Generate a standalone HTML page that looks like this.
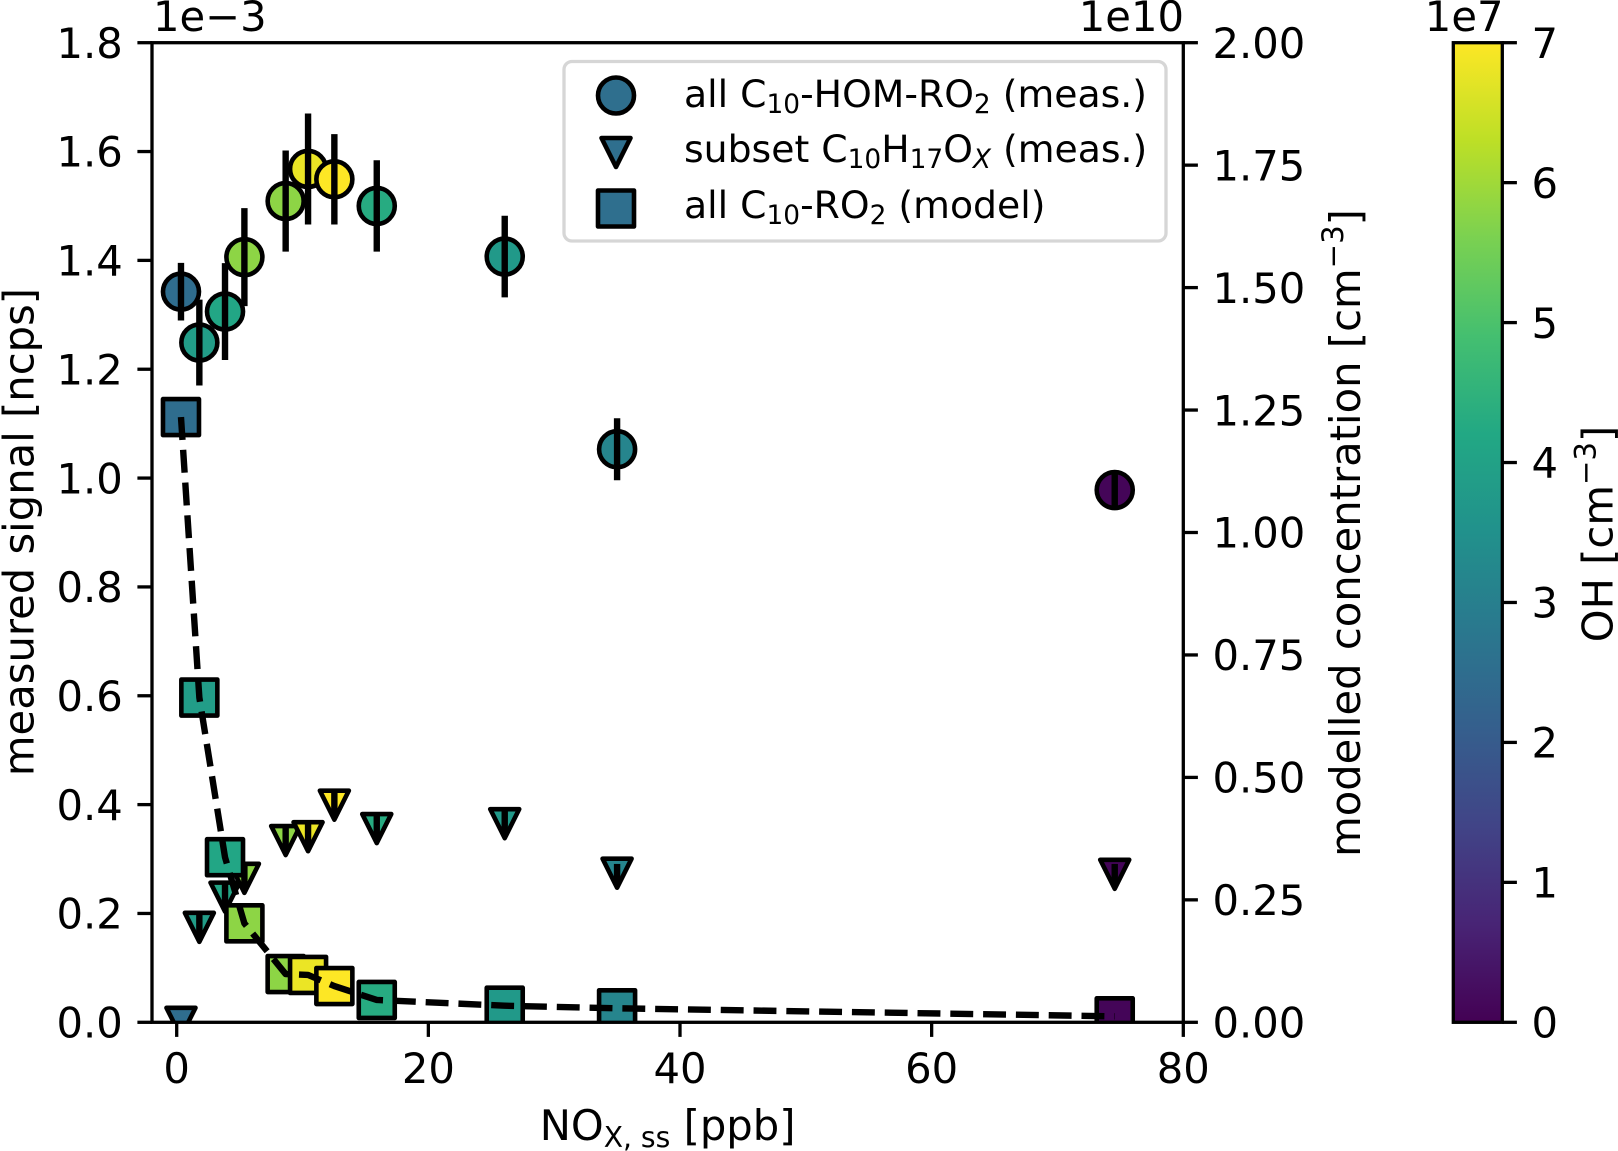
<!DOCTYPE html>
<html lang="en">
<head>
<meta charset="utf-8">
<title>Measured signal and modelled concentration vs NOx</title>
<style>
html,body{margin:0;padding:0;background:#fff;}
svg{display:block;}
text{font-family:"DejaVu Sans","Liberation Sans",sans-serif;font-size:41.7px;fill:#000;}
#legend text{font-size:37.75px;}
#legend text tspan.s{font-size:26.4px;}
</style>
</head>
<body>
<svg id="chart" xmlns="http://www.w3.org/2000/svg" width="1618" height="1151" viewBox="0 0 1618 1151">
  <defs>
    <clipPath id="axes-clip"><rect x="152" y="42.7" width="1031.3" height="979.6"/></clipPath>
    <linearGradient id="viridis-gradient" x1="0" y1="1" x2="0" y2="0"></linearGradient>
  </defs>
  <rect width="1618" height="1151" fill="#fff"/>
  <g id="plot" clip-path="url(#axes-clip)"></g>
  <g id="axes"></g>

  <text x="153" y="31">1e−3</text>
  <text x="1184" y="31" text-anchor="end">1e10</text>
  <text x="1503.5" y="31" text-anchor="end">1e7</text>

  <text x="667.6" y="1140" text-anchor="middle">NO<tspan font-size="28.2" dy="7">X, ss</tspan><tspan dy="-7"> [ppb]</tspan></text>
  <text transform="translate(33.5 532) rotate(-90)" text-anchor="middle">measured signal [ncps]</text>
  <text transform="translate(1360 533) rotate(-90)" text-anchor="middle">modelled concentration [cm<tspan font-size="29.2" dy="-17">−3</tspan><tspan dy="17">]</tspan></text>
  <text transform="translate(1612.7 534) rotate(-90)" text-anchor="middle">OH [cm<tspan font-size="29.2" dy="-17">−3</tspan><tspan dy="17">]</tspan></text>

  <g id="colorbar">
    <rect x="1453.3" y="42.7" width="49" height="979.6" fill="url(#viridis-gradient)"/>
    <rect x="1453.3" y="42.7" width="49" height="979.6" fill="none" stroke="#000" stroke-width="3.3"/>
  </g>

  <g id="legend">
    <rect x="564" y="61.5" width="602" height="179.5" rx="8" ry="8" fill="#fff" fill-opacity="0.8" stroke="#cccccc" stroke-opacity="0.8" stroke-width="3.3"/>
    <circle cx="616" cy="95.5" r="18" fill="#2f6f8e" stroke="#000" stroke-width="4.6"/>
    <path d="M601.5 138 H630.5 L616 167 Z" fill="#2f6f8e" stroke="#000" stroke-width="4.6" stroke-linejoin="round"/>
    <rect x="598" y="190.5" width="36" height="36" fill="#2f6f8e" stroke="#000" stroke-width="4.6" stroke-linejoin="round"/>
    <text x="684" y="107">all C<tspan class="s" dy="6">10</tspan><tspan dy="-6">-HOM-RO</tspan><tspan class="s" dy="6">2</tspan><tspan dy="-6"> (meas.)</tspan></text>
    <text x="684" y="162">subset C<tspan class="s" dy="6">10</tspan><tspan dy="-6">H</tspan><tspan class="s" dy="6">17</tspan><tspan dy="-6">O</tspan><tspan class="s" font-style="italic" dy="6">X</tspan><tspan dy="-6"> (meas.)</tspan></text>
    <text x="684" y="218">all C<tspan class="s" dy="6">10</tspan><tspan dy="-6">-RO</tspan><tspan class="s" dy="6">2</tspan><tspan dy="-6"> (model)</tspan></text>
  </g>
</svg>

<script>
// Data
const noxValues = [0.34, 1.8, 3.84, 5.38, 8.66, 10.44, 12.53, 15.9, 26.07, 35.0, 74.55];
const allHomSignal = [1.3425, 1.249, 1.306, 1.406, 1.509, 1.568, 1.549, 1.5, 1.407, 1.053, 0.978];
const allHomError = [0.053, 0.079, 0.089, 0.09, 0.093, 0.102, 0.083, 0.084, 0.075, 0.057, 0.035];
const subsetSignal = [0.0, 0.1745, 0.23, 0.2646, 0.334, 0.341, 0.399, 0.356, 0.365, 0.274, 0.272];
const subsetError = [0, 0.024, 0.024, 0.024, 0.024, 0.024, 0.024, 0.024, 0.024, 0.017, 0.019];
const modelConc = [1.2356, 0.663, 0.337, 0.202, 0.0985, 0.0967, 0.074, 0.0456, 0.0339, 0.0286, 0.0122];
const ohValues = [2.5, 3.85, 4.15, 5.8, 5.8, 6.8, 7.0, 4.3, 3.75, 3.15, 0.08];
const xTicks = [0, 20, 40, 60, 80];
const leftTicks = ["0.0", "0.2", "0.4", "0.6", "0.8", "1.0", "1.2", "1.4", "1.6", "1.8"];
const rightTicks = ["0.00", "0.25", "0.50", "0.75", "1.00", "1.25", "1.50", "1.75", "2.00"];
const colorbarTicks = [0, 1, 2, 3, 4, 5, 6, 7];
const viridisStops = ["#440154", "#482475", "#414487", "#355f8d", "#2a788e", "#21918c", "#22a884", "#44bf70", "#7ad151", "#bddf26", "#fde725"];

// Axis functions
const plotLeft = 152, plotRight = 1183.3, plotTop = 42.7, plotBottom = 1022.3;
const sx = v => 176.7 + v * (1183.3 - 176.7) / 80;
const syLeft = v => plotBottom - v * (plotBottom - plotTop) / 1.8;
const syRight = v => plotBottom - v * (plotBottom - plotTop) / 2.0;
const syColor = v => plotBottom - v * (plotBottom - plotTop) / 7;

const NS = "http://www.w3.org/2000/svg";
function mk(tag, attrs, parent) {
  const el = document.createElementNS(NS, tag);
  for (const k in attrs) el.setAttribute(k, attrs[k]);
  parent.appendChild(el);
  return el;
}
function hexToRgb(h) {
  return [1, 3, 5].map(i => parseInt(h.substr(i, 2), 16));
}
function viridis(v) {
  const t = Math.max(0, Math.min(1, v / 7)) * (viridisStops.length - 1);
  const i = Math.min(Math.floor(t), viridisStops.length - 2);
  const a = hexToRgb(viridisStops[i]), b = hexToRgb(viridisStops[i + 1]);
  const c = a.map((x, n) => Math.round(x + (b[n] - x) * (t - i)));
  return "rgb(" + c.join(",") + ")";
}

const plot = document.getElementById("plot");
const axes = document.getElementById("axes");
const colorbar = document.getElementById("colorbar");

// Colorbar gradient
const grad = document.getElementById("viridis-gradient");
viridisStops.forEach((c, i) => {
  mk("stop", {offset: i / (viridisStops.length - 1), "stop-color": c}, grad);
});

// Circles
noxValues.forEach((x, i) => {
  const c = mk("circle", {cx: sx(x), cy: syLeft(allHomSignal[i]), r: 18, fill: viridis(ohValues[i]), stroke: "#000", "stroke-width": 4.6}, plot);
  
  
});
// Circle error bars
noxValues.forEach((x, i) => {
  const l = mk("line", {x1: sx(x), x2: sx(x), y1: syLeft(allHomSignal[i] - allHomError[i]), y2: syLeft(allHomSignal[i] + allHomError[i]), stroke: "#000", "stroke-width": 6.4}, plot);
  
  
});
// Triangles
noxValues.forEach((x, i) => {
  const px = sx(x), py = syLeft(subsetSignal[i]);
  const t = mk("path", {d: "M" + (px - 14.5) + " " + (py - 14.5) + " H" + (px + 14.5) + " L" + px + " " + (py + 14.5) + " Z", fill: viridis(ohValues[i]), stroke: "#000", "stroke-width": 4.6, "stroke-linejoin": "round"}, plot);
  
  
});
// Triangle error bars
noxValues.forEach((x, i) => {
  if (subsetError[i] <= 0) return;
  const l = mk("line", {x1: sx(x), x2: sx(x), y1: syLeft(subsetSignal[i] - subsetError[i]), y2: syLeft(subsetSignal[i] + subsetError[i]), stroke: "#000", "stroke-width": 6.4}, plot);
  
  
});
// Squares
noxValues.forEach((x, i) => {
  const s = mk("rect", {x: sx(x) - 18, y: syRight(modelConc[i]) - 18, width: 36, height: 36, fill: viridis(ohValues[i]), stroke: "#000", "stroke-width": 4.6, "stroke-linejoin": "round"}, plot);
  
  
});
// Dashed model line
const modelLine = mk("polyline", {points: noxValues.map((x, i) => sx(x) + "," + syRight(modelConc[i])).join(" "), fill: "none", stroke: "#000", "stroke-width": 6.4, "stroke-dasharray": "22.9 9.9", "stroke-linejoin": "round"}, plot);



// Spines
const frame = mk("rect", {x: plotLeft, y: plotTop, width: plotRight - plotLeft, height: plotBottom - plotTop, fill: "none", stroke: "#000", "stroke-width": 3.3}, axes);



const tickLen = 14.6, tickW = 3.3, pad = 29.2;

// X ticks
xTicks.forEach(v => {
  const l = mk("line", {x1: sx(v), x2: sx(v), y1: plotBottom, y2: plotBottom + tickLen, stroke: "#000", "stroke-width": tickW}, axes);
  
  
  const t = mk("text", {x: sx(v), y: 1083, "text-anchor": "middle"}, axes);
  t.textContent = String(v);
  
  
});
// Left ticks
leftTicks.forEach(s => {
  const y = syLeft(parseFloat(s));
  const l = mk("line", {x1: plotLeft - tickLen, x2: plotLeft, y1: y, y2: y, stroke: "#000", "stroke-width": tickW}, axes);
  
  
  const t = mk("text", {x: plotLeft - pad, y: y + 15.2, "text-anchor": "end"}, axes);
  t.textContent = s;
  
  
});
// Right ticks
rightTicks.forEach(s => {
  const y = syRight(parseFloat(s));
  const l = mk("line", {x1: plotRight, x2: plotRight + tickLen, y1: y, y2: y, stroke: "#000", "stroke-width": tickW}, axes);
  
  
  const t = mk("text", {x: plotRight + pad, y: y + 15.2}, axes);
  t.textContent = s;
  
  
});
// Colorbar ticks
colorbarTicks.forEach(v => {
  const y = syColor(v);
  const l = mk("line", {x1: 1502.3, x2: 1502.3 + tickLen, y1: y, y2: y, stroke: "#000", "stroke-width": tickW}, colorbar);
  
  
  const t = mk("text", {x: 1502.3 + pad, y: y + 15.2}, colorbar);
  t.textContent = String(v);
  
  
});
</script>
</body>
</html>
